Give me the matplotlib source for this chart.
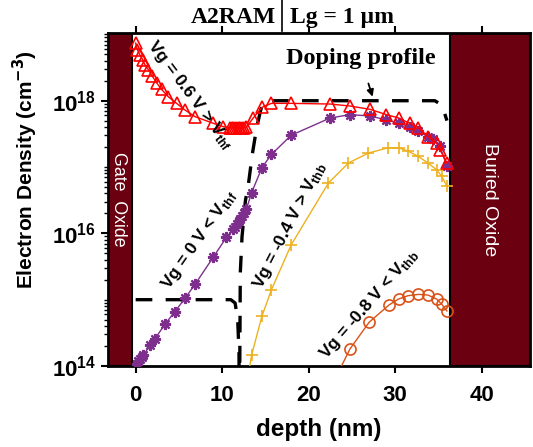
import numpy as np
import matplotlib
matplotlib.use("Agg")
import matplotlib.pyplot as plt
from matplotlib.ticker import LogLocator, FixedLocator, NullFormatter

# ---- data (depth in nm, electron density in cm^-3) ----
depth_p06 = [0, 0.19, 0.5, 0.81, 1.08, 1.46, 1.92, 2.43, 3.0, 3.77, 4.74, 5.7, 6.86, 8.97,
             10.1, 10.9, 11.1, 11.3, 11.5, 11.7, 11.9, 12.1, 12.3, 12.5, 12.8, 13.6, 14.6,
             15.7, 18.0, 22.5, 24.8, 27.1, 29.0, 30.4, 31.7, 32.7, 33.8, 34.8, 35.2, 36.0]
log_p06 = [18.87, 18.77, 18.69, 18.62, 18.54, 18.47, 18.37, 18.27, 18.17, 18.06, 17.96, 17.86,
           17.76, 17.66, 17.61, 17.59, 17.59, 17.59, 17.59, 17.59, 17.59, 17.59, 17.59, 17.59,
           17.60, 17.74, 17.90, 17.96, 17.96, 17.95, 17.92, 17.87, 17.79, 17.74, 17.66, 17.59,
           17.46, 17.36, 17.26, 17.06]

depth_0 = [0.1, 0.3, 0.5, 0.7, 0.88, 1.65, 2.23, 3.39, 4.54, 5.7, 6.86, 8.97, 10.5, 11.3,
           11.5, 11.7, 11.9, 12.1, 12.3, 12.5, 12.8, 13.4, 14.6, 15.7, 18.0, 22.5, 24.8, 27.1,
           29.0, 30.4, 31.7, 32.7, 33.8, 34.4, 35.2, 36.0]
log_0 = [14.03, 14.07, 14.11, 14.14, 14.16, 14.31, 14.41, 14.63, 14.82, 15.02, 15.23, 15.64,
         15.94, 16.06, 16.10, 16.14, 16.18, 16.22, 16.26, 16.30, 16.36, 16.61, 16.99, 17.19,
         17.48, 17.74, 17.79, 17.77, 17.71, 17.66, 17.61, 17.54, 17.46, 17.42, 17.31, 17.01]

depth_m04 = [12.8, 13.4, 14.6, 15.7, 18.0, 22.3, 24.6, 26.9, 29.2, 30.4, 31.5, 32.7, 33.8,
             34.8, 35.4, 36.0]
log_m04 = [13.68, 14.16, 14.75, 15.15, 15.83, 16.76, 17.06, 17.21, 17.29, 17.29, 17.24, 17.16,
           17.06, 16.96, 16.86, 16.71]

depth_m08 = [22.5, 24.8, 27.0, 29.3, 30.4, 31.5, 32.7, 33.8, 34.8, 35.4, 36.0]
log_m08 = [13.66, 14.26, 14.66, 14.92, 15.01, 15.06, 15.08, 15.07, 15.01, 14.93, 14.83]

depth_dop = [0, 11.0, 11.5, 11.8, 11.95, 12.0, 12.02, 12.1, 12.3, 12.7, 13.0, 13.5, 14.0,
             14.5, 15.0, 16.0, 34.6, 35.1, 35.6, 36.0]
log_dop = [15.0, 15.0, 14.95, 14.7, 14.2, 13.0, 13.5, 15.4, 15.95, 16.5, 16.7, 17.2, 17.6,
           17.88, 17.98, 18.0, 18.0, 17.96, 17.86, 17.7]

gate_oxide = (-3.2, -0.45)
buried_oxide = (36.3, 45.6)

labels = ["Vg = 0.6 V > V$_{\\mathregular{thf}}$", "Vg = 0 V < V$_{\\mathregular{thf}}$",
          "Vg = -0.4 V > V$_{\\mathregular{thb}}$", "Vg = -0.8 V < V$_{\\mathregular{thb}}$"]

plt.rcParams['font.family'] = ['Liberation Sans', 'DejaVu Sans']
plt.rcParams['mathtext.default'] = 'bf'

fig = plt.figure(figsize=(5.33, 4.47), dpi=100)
ax = fig.add_axes([0.2026, 0.1812, 0.7917, 0.745])

ox_col = '#6A0010'
ax.axvspan(gate_oxide[0], gate_oxide[1], facecolor=ox_col, edgecolor='black', lw=1.5, zorder=1)
ax.axvspan(buried_oxide[0], buried_oxide[1], facecolor=ox_col, edgecolor='black', lw=1.5, zorder=1)

def p(v):
    return 10 ** np.array(v)

ax.plot(depth_dop, p(log_dop), color='black', lw=2.4, ls=(0, (5, 4)), zorder=2)
ax.plot(depth_p06, p(log_p06), color='red', marker='^', mfc='none', mec='red', ms=8, mew=1.2,
        lw=1.0, zorder=4)
ax.plot(depth_0, p(log_0), color='#7E2F8E', marker=(8, 2, 0), ms=8, mew=1.6, lw=1.0, zorder=3)
ax.plot(depth_m04, p(log_m04), color='#EDB120', marker='+', ms=8, mew=1.2, lw=1.0, zorder=3)
ax.plot(depth_m08, p(log_m08), color='#D95319', marker='o', mfc='none', mec='#D95319', ms=8,
        mew=1.2, lw=1.0, zorder=3)

ax.set_xlim(-3.2, 45.6)
ax.set_ylim(1e14, 1.05e19)
ax.set_yscale('log')
ax.yaxis.set_major_locator(FixedLocator([1e14, 1e16, 1e18]))
ax.yaxis.set_minor_locator(LogLocator(base=10, subs=np.arange(1, 10), numticks=20))
ax.yaxis.set_minor_formatter(NullFormatter())
ax.set_xticks([0, 10, 20, 30, 40])

ax.tick_params(axis='both', which='major', direction='out', length=5, width=1.5,
               labelsize=16, top=True, right=False)
ax.tick_params(axis='x', which='major', pad=9)
ax.tick_params(axis='y', which='minor', direction='out', length=3, width=1.0)
for lab in ax.get_xticklabels() + ax.get_yticklabels():
    lab.set_fontweight('bold')
for s in ax.spines.values():
    s.set_linewidth(2)

ax.set_xlabel('depth (nm)', fontsize=17.5, fontweight='bold', labelpad=8)
ax.set_ylabel('Electron Density (cm$^{-3}$)', fontsize=15, fontweight='bold')
ax.yaxis.set_label_coords(-0.161, 0.589)

ax.text(-1.93, 10 ** 16.51, 'Gate  Oxide', rotation=270, color='white', fontsize=12.8,
        ha='center', va='center', zorder=5)
ax.text(40.96, 10 ** 16.51, 'Buried Oxide', rotation=270, color='white', fontsize=14,
        ha='center', va='center', zorder=5)

ax.text(6.3, 10 ** 18.09, labels[0], rotation=-53, fontsize=12.5, fontweight='bold',
        ha='center', va='center', rotation_mode='anchor', zorder=6)
ax.text(7.3, 10 ** 15.91, labels[1], rotation=55, fontsize=12.5, fontweight='bold',
        ha='center', va='center', rotation_mode='anchor', zorder=6)
ax.text(17.8, 10 ** 16.13, labels[2], rotation=63, fontsize=12.5, fontweight='bold',
        ha='center', va='center', rotation_mode='anchor', zorder=6)
ax.text(27.0, 10 ** 14.94, labels[3], rotation=49, fontsize=12.5, fontweight='bold',
        ha='center', va='center', rotation_mode='anchor', zorder=6)

ax.annotate('Doping profile', xy=(27.4, 10 ** 18.06), xytext=(26.0, 10 ** 18.64),
            fontsize=17.5, fontweight='bold', family='Liberation Serif', ha='center',
            va='center',
            arrowprops=dict(arrowstyle='-|>', color='black', lw=1.3, mutation_scale=10,
                            shrinkA=9, shrinkB=0), zorder=7)

fig.text(276 / 533, 1 - 22.7 / 447, 'A2RAM', fontsize=17, fontweight='bold',
         family='Liberation Serif', ha='right', va='baseline')
fig.text(290 / 533, 1 - 22.7 / 447, 'Lg = 1 \u00b5m', fontsize=17, fontweight='bold',
         family='Liberation Serif', ha='left', va='baseline')
fig.add_artist(plt.Line2D([282 / 533, 282 / 533], [1.0, 1 - 31 / 447], color='black',
                          lw=1.2))

fig.savefig('out.png', dpi=100)
